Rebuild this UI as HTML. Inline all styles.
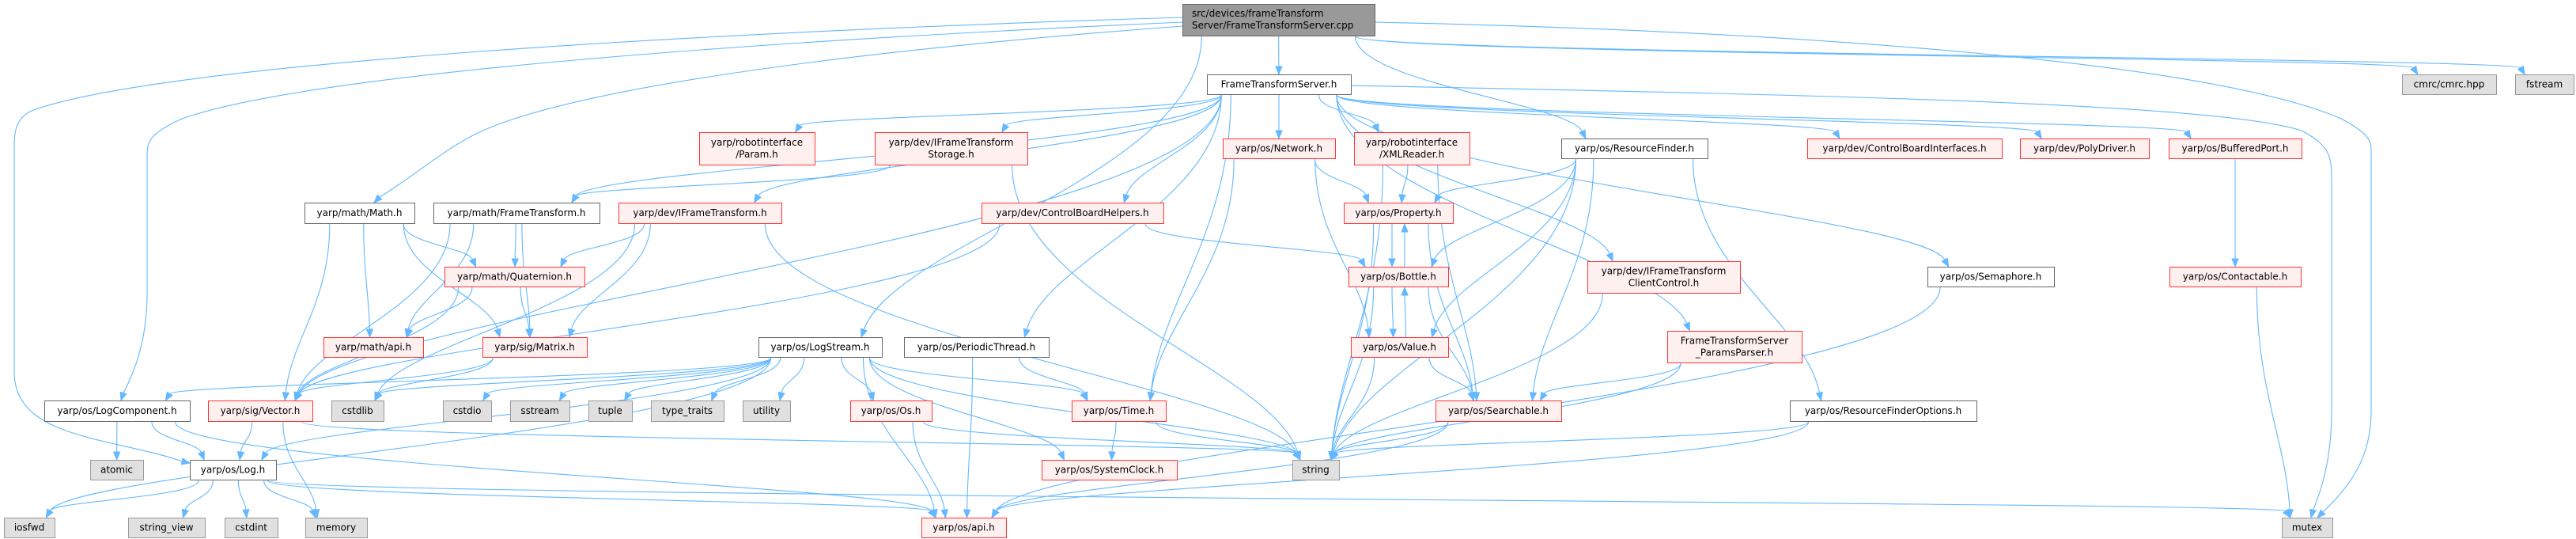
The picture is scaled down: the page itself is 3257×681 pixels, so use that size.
<!DOCTYPE html>
<html><head><meta charset="utf-8"><style>
html,body{margin:0;padding:0;background:#fff;}
svg{display:block;}
text{font-family:"DejaVu Sans","Liberation Sans",sans-serif;font-size:12px;fill:#000;}
</style></head><body>
<svg id="g" width="3257" height="681" viewBox="0 0 3257 681" xmlns="http://www.w3.org/2000/svg">
<g id="edges"></g>
<g id="nodes"></g>
</svg>
<script>
var N={
cpp:[1495,5,1738,45,'g2',['src/devices/frameTransform','Server/FrameTransformServer.cpp']],
fts:[1526,94,1708,119,'w',['FrameTransformServer.h']],
param:[884,167,1030,208,'r',['yarp/robotinterface','/Param.h']],
stor:[1106,167,1299,208,'r',['yarp/dev/IFrameTransform','Storage.h']],
net:[1546,175,1688,200,'r',['yarp/os/Network.h']],
xml:[1712,167,1858,208,'r',['yarp/robotinterface','/XMLReader.h']],
rf:[1974,175,2159,200,'w',['yarp/os/ResourceFinder.h']],
cbi:[2285,175,2531,200,'r',['yarp/dev/ControlBoardInterfaces.h']],
poly:[2554,175,2717,200,'r',['yarp/dev/PolyDriver.h']],
bport:[2742,175,2910,200,'r',['yarp/os/BufferedPort.h']],
cmrc:[3037,94,3156,119,'g',['cmrc/cmrc.hpp']],
fstream:[3180,94,3254,119,'g',['fstream']],
math:[385,256,524,282,'w',['yarp/math/Math.h']],
mft:[548,256,758,282,'w',['yarp/math/FrameTransform.h']],
ift:[782,256,988,282,'r',['yarp/dev/IFrameTransform.h']],
cbh:[1241,256,1471,282,'r',['yarp/dev/ControlBoardHelpers.h']],
prop:[1699,256,1837,282,'r',['yarp/os/Property.h']],
quat:[562,337,739,362,'r',['yarp/math/Quaternion.h']],
bottle:[1705,337,1831,362,'r',['yarp/os/Bottle.h']],
cc:[2007,330,2200,370,'r',['yarp/dev/IFrameTransform','ClientControl.h']],
sem:[2437,337,2597,362,'w',['yarp/os/Semaphore.h']],
contact:[2743,337,2909,362,'r',['yarp/os/Contactable.h']],
mapi:[409,426,535,451,'r',['yarp/math/api.h']],
matrix:[610,426,742,451,'r',['yarp/sig/Matrix.h']],
ls:[959,426,1115,451,'w',['yarp/os/LogStream.h']],
pt:[1143,426,1326,451,'w',['yarp/os/PeriodicThread.h']],
value:[1708,426,1831,451,'r',['yarp/os/Value.h']],
pp:[2108,418,2278,458,'r',['FrameTransformServer','_ParamsParser.h']],
lc:[56,506,240,532,'w',['yarp/os/LogComponent.h']],
vec:[263,506,395,532,'r',['yarp/sig/Vector.h']],
cstdlib:[419,506,485,532,'g',['cstdlib']],
cstdio:[560,506,621,532,'g',['cstdio']],
sstream:[645,506,720,532,'g',['sstream']],
tuple:[744,506,799,532,'g',['tuple']],
tt:[823,506,915,532,'g',['type_traits']],
util:[939,506,999,532,'g',['utility']],
os:[1075,506,1178,532,'r',['yarp/os/Os.h']],
time:[1355,506,1474,532,'r',['yarp/os/Time.h']],
search:[1815,506,1974,532,'r',['yarp/os/Searchable.h']],
rfo:[2263,506,2499,532,'w',['yarp/os/ResourceFinderOptions.h']],
atomic:[114,581,181,606,'g',['atomic']],
log:[240,581,349,606,'w',['yarp/os/Log.h']],
sc:[1317,581,1488,606,'r',['yarp/os/SystemClock.h']],
string:[1634,581,1693,606,'g',['string']],
iosfwd:[5,654,69,679,'g',['iosfwd']],
sv:[162,654,259,679,'g',['string_view']],
cstdint:[284,654,351,679,'g',['cstdint']],
memory:[386,654,464,679,'g',['memory']],
api:[1165,654,1272,679,'r',['yarp/os/api.h']],
mutex:[2885,654,2949,679,'g',['mutex']]
};
var E='cpp fts,cpp ls,cpp rf,cpp cmrc,cpp fstream,'+
'fts param,fts stor,fts net,fts xml,fts cbh,fts mft,fts ift,fts vec,fts pt,fts time,fts cbi,fts poly,fts bport,fts sem,fts cc,fts pp,'+
'math vec,math mapi,math quat,math matrix,mft quat,mft matrix,mft mapi,mft vec,ift quat,ift matrix,ift string,ift cstdlib,stor mft,stor string,'+
'quat mapi,quat matrix,quat vec,matrix vec,matrix cstdlib,'+
'ls lc,ls log,ls cstdio,ls sstream,ls tuple,ls tt,ls util,ls os,ls time,ls sc,ls string,ls api,ls iosfwd,ls cstdlib,'+
'lc atomic,lc log,lc api,vec log,vec memory,vec string,log iosfwd,log sv,log cstdint,log memory,log api,log mutex,'+
'os api,os string,time sc,time string,pt time,pt api,cbh bottle,cbh vec,net prop,net value,net time,xml prop,xml search,xml string,'+
'rf prop,rf bottle,rf value,rf search,rf string,rf rfo,prop bottle,prop string,prop search,bottle prop,bottle value,bottle string,bottle search,'+
'value bottle,value search,value string,search string,search api,cc string,pp search,pp string,rfo string,rfo api,sem api,bport contact,contact mutex';
var NS='http://www.w3.org/2000/svg';
function el(t,a,p){var e=document.createElementNS(NS,t);for(var k in a)e.setAttribute(k,a[k]);p.appendChild(e);return e;}
var ng=document.getElementById('nodes'),eg=document.getElementById('edges');
for(var id in N){var n=N[id],st={w:['#fff','#666'],r:['#fff0f0','#f33'],g:['#e0e0e0','#999'],g2:['#999','#666']}[n[4]];
el('rect',{x:n[0]+.5,y:n[1]+.5,width:n[2]-n[0],height:n[3]-n[1],fill:st[0],stroke:st[1],'stroke-width':1},ng);
var L=n[5];if(id==='cpp'){for(var i=0;i<2;i++){var t=el('text',{x:n[0]+12,y:n[1]+16+i*15},ng);t.textContent=L[i];}}
else for(var i=0;i<L.length;i++){var cy=(n[1]+n[3])/2+4+(L.length==2?(i?7.5:-7.5):0);var t=el('text',{x:(n[0]+n[2])/2,y:cy,'text-anchor':'middle'},ng);t.textContent=L[i];}}
function arrow(ex,ey,ux,uy){var L=10,bx=ex-ux*L,by=ey-uy*L,px=-uy*4,py=ux*4;
el('polygon',{points:ex+','+ey+' '+(bx+px)+','+(by+py)+' '+(bx-px)+','+(by-py),fill:'#63b8ff',stroke:'#63b8ff'},eg);return [bx,by];}
function custom(d,ex,ey,ux,uy){var b=arrow(ex,ey,ux,uy);el('path',{d:d+' '+b[0]+','+b[1],fill:'none',stroke:'#63b8ff','stroke-width':1.1},eg);}
// cpp -> Log.h (far left route)
custom('M1495,22 C900,40 200,80 40,140 C18,150 18,170 18,190 L18,470 C18,520 60,540 120,555 C160,565 200,572',240,585,0.98,0.2);
// cpp -> LogComponent
custom('M1495,28 C1000,50 400,90 230,150 C186,170 186,180 186,200 L186,370 C186,430 170,470',153,506,-0.3,0.95);
// cpp -> Math
custom('M1495,33 C1000,70 700,120 600,170 C560,190 520,225',473,256,-0.7,0.7);
// cpp -> mutex
custom('M1738,28 C2300,40 2800,80 2960,150 C2998,170 2998,180 2998,190 L2998,520 C2998,580 2970,615',2930,654,-0.7,0.7);
// fts -> mutex
custom('M1708,108 C2300,120 2800,130 2910,165 C2948,185 2948,200 2948,230 L2948,520 C2948,580 2935,620',2922,654,-0.25,0.97);
E.split(',').forEach(function(s){var p=s.split(' '),a=N[p[0]],b=N[p[1]];if(!a||!b)return;
var acx=(a[0]+a[2])/2,bcx=(b[0]+b[2])/2,aw=a[2]-a[0],bw=b[2]-b[0];var sx,sy,ex,ey,up=b[1]<a[1];
sx=acx+Math.max(-aw/2.5,Math.min(aw/2.5,(bcx-acx)*0.3));ex=bcx+Math.max(-bw/3,Math.min(bw/3,(acx-bcx)*0.25));
if(p[0]=='bottle'&&p[1]=='prop'){sx=acx+8;ex=bcx+8;}if(p[0]=='prop'&&p[1]=='bottle'){sx=acx-8;ex=bcx-8;}
if(p[0]=='value'&&p[1]=='bottle'){sx=acx+8;ex=bcx+8;}if(p[0]=='bottle'&&p[1]=='value'){sx=acx-8;ex=bcx-8;}
if(up){sy=a[1];ey=b[3]+1;}else{sy=a[3]+1;ey=b[1];}
var dy=ey-sy;var c1y=sy+dy*0.45;
var gx=ex-sx,gy=ey-sy,gl=Math.sqrt(gx*gx+gy*gy);var uy=dy>0?1:-1;var ux=0.4*gx/gl;uy=uy*0.6+0.4*gy/gl;var ul=Math.sqrt(ux*ux+uy*uy);ux/=ul;uy/=ul;
var L=10,bx=ex-ux*L,by=ey-uy*L;
el('path',{d:'M'+sx+','+sy+' C'+sx+','+c1y+' '+(bx-ux*Math.abs(dy)*0.3)+','+(by-uy*Math.abs(dy)*0.3)+' '+bx+','+by,fill:'none',stroke:'#63b8ff','stroke-width':1.1},eg);
arrow(ex,ey,ux,uy);
});
</script>
</body></html>
